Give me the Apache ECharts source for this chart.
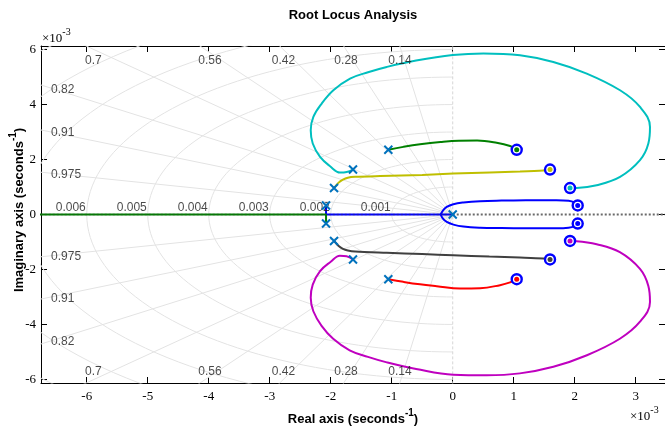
<!DOCTYPE html>
<html><head><meta charset="utf-8">
<script src="https://cdn.jsdelivr.net/npm/echarts@6/dist/echarts.min.js"></script>
<style>html,body{margin:0;padding:0;background:#fff}#c{width:665px;height:429px}</style>
</head><body><div id="c"></div><script>
// ---- data (units of 1e-3 s^-1) ----
const xTicks = [-6, -5, -4, -3, -2, -1, 0, 1, 2, 3];
const yTicks = [-6, -4, -2, 0, 2, 4, 6];
const dampingRatios = [0.14, 0.28, 0.42, 0.56, 0.7, 0.82, 0.91, 0.975];
const naturalFreqs = [1, 2, 3, 4, 5, 6, 7, 8, 9];
const freqLabels = ['0.001', '0.002', '0.003', '0.004', '0.005', '0.006'];
const poles = [[0, 0], [-2.077, 0.33], [-2.077, -0.33], [-1.946, 0.963], [-1.946, -0.963],
  [-1.635, 1.636], [-1.635, -1.636], [-1.056, 2.355], [-1.056, -2.355]];
const zeros = [[2.049, 0.33], [2.049, -0.33], [1.923, 0.963], [1.923, -0.963],
  [1.595, 1.636], [1.595, -1.636], [1.049, 2.355], [1.049, -2.355]];
const blueAxis = [[-2.077, 0.33], [-2.077, 0], [0, 0]];
const greenAxis = [[-2.077, -0.33], [-2.077, 0], [-7.5, 0]];
const blueUpper = [[-0.197, 0], [-0.164, 0.13], [-0.098, 0.276], [0.01, 0.375], [0.174, 0.436], [0.448, 0.484],
  [0.8, 0.505], [1.2, 0.515], [1.7, 0.52], [1.9, 0.5], [2.0, 0.43], [2.049, 0.33]];
const blueLower = [[-0.197, 0], [-0.164, -0.14], [-0.098, -0.272], [0.01, -0.368], [0.174, -0.44], [0.448, -0.482],
  [0.8, -0.495], [1.2, -0.5], [1.7, -0.5], [1.9, -0.48], [2.0, -0.42], [2.049, -0.33]];
const greenUpper = [[-1.056, 2.355], [-0.81, 2.46], [-0.536, 2.556], [-0.2, 2.64], [0.1, 2.685], [0.4, 2.69],
  [0.72, 2.61], [0.94, 2.49], [1.049, 2.355]];
const redLower = [[-1.056, -2.355], [-0.81, -2.45], [-0.536, -2.54], [-0.262, -2.607], [0.12, -2.69], [0.448, -2.68],
  [0.775, -2.57], [0.94, -2.47], [1.049, -2.355]];
const yellowUpper = [[-1.946, 0.963], [-1.875, 1.15], [-1.8, 1.27], [-1.72, 1.34], [-1.6, 1.37], [-1.19, 1.40],
  [-0.5, 1.44], [0.01, 1.49], [0.61, 1.527], [1.103, 1.56], [1.486, 1.60], [1.595, 1.636]];
const grayLower = [[-1.946, -0.963], [-1.875, -1.14], [-1.8, -1.25], [-1.72, -1.31], [-1.6, -1.35], [-1.082, -1.395],
  [-0.5, -1.44], [0.01, -1.48], [0.6, -1.53], [1.1, -1.565], [1.486, -1.6], [1.595, -1.636]];
const cyanUpper = [[-1.635, 1.636], [-1.738, 1.549], [-1.848, 1.527], [-2.011, 1.756], [-2.175, 2.095], [-2.295, 2.582],
  [-2.328, 3.065], [-2.285, 3.549], [-2.148, 4.036], [-1.957, 4.52], [-1.684, 4.945], [-1.389, 5.175], [-1.082, 5.367],
  [-0.6, 5.6], [0.0, 5.8], [0.502, 5.86], [1.103, 5.793], [1.649, 5.549], [2.197, 5.127], [2.743, 4.52],
  [3.07, 3.913], [3.234, 3.185], [3.207, 2.58], [3.07, 1.975], [2.743, 1.367], [2.36, 1.065], [2.033, 0.967], [1.923, 0.963]];
const magentaLower = [[-1.635, -1.636], [-1.74, -1.52], [-1.85, -1.5], [-2.0, -1.72], [-2.175, -2.06], [-2.295, -2.55],
  [-2.328, -3.03], [-2.285, -3.52], [-2.15, -4.05], [-1.96, -4.52], [-1.69, -4.94], [-1.39, -5.18], [-1.08, -5.38],
  [-0.6, -5.62], [0.01, -5.83], [0.557, -5.85], [1.1, -5.78], [1.65, -5.54], [2.2, -5.12], [2.74, -4.52],
  [3.07, -3.9], [3.234, -3.18], [3.207, -2.6], [3.07, -1.98], [2.74, -1.37], [2.36, -1.08], [2.03, -0.97], [1.923, -0.963]];

// ---- layout / style ----
const X_MIN = -6.75, X_MAX = 3.48, Y_MIN = -6.13, Y_MAX = 6.13;
const C = { b: '#0000ff', g: '#008000', r: '#ff0000', c: '#00bfbf', m: '#bf00bf', y: '#bfbf00', k: '#404040' };
const zeroInner = [C.b, C.b, C.c, C.m, C.y, C.k, C.g, C.r];
// damping label placement [x, y, align]
const dampLabelPos = {
  0.14: [[-0.864, 5.61, 'center'], [-0.864, -5.72, 'center']],
  0.28: [[-1.749, 5.61, 'center'], [-1.749, -5.72, 'center']],
  0.42: [[-2.774, 5.61, 'center'], [-2.774, -5.72, 'center']],
  0.56: [[-3.98, 5.61, 'center'], [-3.98, -5.72, 'center']],
  0.7: [[-5.89, 5.61, 'center'], [-5.89, -5.72, 'center']],
  0.82: [[-6.585, 4.545, 'left'], [-6.585, -4.633, 'left']],
  0.91: [[-6.585, 2.967, 'left'], [-6.585, -3.055, 'left']],
  0.975: [[-6.585, 1.465, 'left'], [-6.585, -1.542, 'left']]
};
const GRID_COLOR = '#e3e3e3';
const series = [];
function gline(data, extra) {
  series.push(Object.assign({ type: 'line', data: data, symbol: 'none', silent: true, animation: false, z: 1,
    lineStyle: { color: GRID_COLOR, width: 1 } }, extra || {}));
}
// damping lines
dampingRatios.forEach(z => {
  const R = 20, s = Math.sqrt(1 - z * z);
  gline([[0, 0], [-R * z, R * s]]);
  gline([[0, 0], [-R * z, -R * s]]);
});
// natural frequency arcs (left half plane)
naturalFreqs.forEach(w => {
  const pts = [];
  for (let a = 90; a <= 270; a += 2) {
    const t = a * Math.PI / 180;
    pts.push([w * Math.cos(t), w * Math.sin(t)]);
  }
  gline(pts);
});
// zeta = 0 line
gline([[0, -10], [0, 10]], { lineStyle: { color: '#d6d6d6', width: 1, type: [3, 2] } });

// branches
function branch(data, color, smooth) {
  series.push({ type: 'line', data: data, symbol: 'none', smooth: smooth, silent: true, animation: false, z: 5,
    lineStyle: { color: color, width: 2 } });
}
branch(blueAxis, C.b, false);
branch(greenAxis, C.g, false);
branch(blueUpper, C.b, 0.4);
branch(blueLower, C.b, 0.4);
branch(greenUpper, C.g, 0.4);
branch(redLower, C.r, 0.4);
branch(yellowUpper, C.y, 0.3);
branch(grayLower, C.k, 0.3);
branch(cyanUpper, C.c, 0.4);
branch(magentaLower, C.m, 0.4);

// dotted real axis
series.push({ type: 'line', data: [[0, 0], [5, 0]], symbol: 'none', silent: true, animation: false, z: 6,
  lineStyle: { color: '#6a6a6a', width: 2, type: [2, 2] } });
series.push({ type: 'line', data: [[-8, 0], [0, 0]], symbol: 'none', silent: true, animation: false, z: 6,
  lineStyle: { color: 'rgba(60,60,60,0.3)', width: 2, type: [2, 2] } });

// zeros
series.push({ type: 'scatter', data: zeros, symbol: 'circle', symbolSize: 10, silent: true, animation: false, z: 8,
  itemStyle: { color: '#ffffff', borderColor: '#0000ff', borderWidth: 2.4, opacity: 1 } });
series.push({ type: 'scatter', data: zeros.map((p, i) => ({ value: p, itemStyle: { color: zeroInner[i] } })),
  symbol: 'circle', symbolSize: 5, silent: true, animation: false, z: 9, itemStyle: { opacity: 1 } });
// poles
series.push({ type: 'scatter', data: poles, symbol: 'path://M0,0L10,10M10,0L0,10', symbolSize: 8,
  silent: true, animation: false, z: 10,
  itemStyle: { color: 'rgba(0,0,0,0)', borderColor: '#0072bd', borderWidth: 2, opacity: 1 } });

// damping labels
const dl = [];
dampingRatios.forEach(z => {
  (dampLabelPos[z] || []).forEach(p => dl.push({ name: String(z), value: [p[0], p[1]],
    label: { align: p[2] } }));
});
series.push({ type: 'scatter', data: dl, symbolSize: 0, silent: true, animation: false, z: 7,
  label: { show: true, position: [0, 0], verticalAlign: 'middle', formatter: p => p.name,
    fontFamily: 'Liberation Sans', fontSize: 12, color: '#1a1a1a' } });
// frequency labels
series.push({ type: 'scatter', data: freqLabels.map((t, i) => ({ name: t, value: [-naturalFreqs[i], 0] })),
  symbolSize: 0, silent: true, animation: false, z: 7,
  label: { show: true, position: [-1, -7], align: 'right', verticalAlign: 'middle', formatter: p => p.name,
    fontFamily: 'Liberation Sans', fontSize: 12, color: '#1a1a1a' } });

const axisCommon = {
  type: 'value', splitLine: { show: false },
  axisLine: { show: true, onZero: false, lineStyle: { color: '#000', width: 1 } }
};
const tickFont = { fontFamily: 'Liberation Serif', fontSize: 13, color: '#000' };
const supRich = (fam, bold) => ({
  a: { fontFamily: fam, fontWeight: bold ? 'bold' : 'normal', fontSize: 13, fill: '#000', lineHeight: 18, verticalAlign: 'bottom' },
  s: { fontFamily: fam, fontWeight: bold ? 'bold' : 'normal', fontSize: 10, fill: '#000', lineHeight: 18, verticalAlign: 'top' }
});
const option = {
  animation: false,
  grid: { left: 41, right: 0, top: 46, bottom: 46, containLabel: false, outerBoundsMode: 'none' },
  xAxis: [
    Object.assign({}, axisCommon, { min: X_MIN, max: X_MAX, position: 'bottom',
      axisTick: { show: true, inside: true, length: 6, customValues: xTicks, lineStyle: { color: '#000' } },
      axisLabel: Object.assign({ show: true, customValues: xTicks, margin: 7, formatter: v => String(v) }, tickFont) }),
    Object.assign({}, axisCommon, { min: X_MIN, max: X_MAX, position: 'top',
      axisTick: { show: true, inside: true, length: 6, customValues: xTicks, lineStyle: { color: '#000' } },
      axisLabel: { show: false } })
  ],
  yAxis: [
    Object.assign({}, axisCommon, { min: Y_MIN, max: Y_MAX, position: 'left',
      axisTick: { show: true, inside: true, length: 6, customValues: yTicks, lineStyle: { color: '#000' } },
      axisLabel: Object.assign({ show: true, customValues: yTicks, margin: 5, formatter: v => String(v) }, tickFont) }),
    Object.assign({}, axisCommon, { min: Y_MIN, max: Y_MAX, position: 'right',
      axisTick: { show: true, inside: true, length: 6, customValues: yTicks, lineStyle: { color: '#000' } },
      axisLabel: { show: false } })
  ],
  series: series,
  graphic: [
    { type: 'text', x: 353, y: 15, style: { text: 'Root Locus Analysis', fill: '#000',
      font: 'bold 13px "Liberation Sans"', align: 'center', verticalAlign: 'middle' } },
    { type: 'text', x: 353, y: 417, style: { text: '{a|Real axis (seconds}{s|-1}{a|)}', align: 'center', verticalAlign: 'middle',
      rich: supRich('Liberation Sans', true) } },
    { type: 'text', x: 17, y: 210, rotation: Math.PI / 2, style: { text: '{a|Imaginary axis (seconds}{s|-1}{a|)}', align: 'center', verticalAlign: 'middle',
      rich: supRich('Liberation Sans', true) } },
    { type: 'text', x: 42, y: 36, style: { text: '{a|×10}{s|-3}', align: 'left', verticalAlign: 'middle',
      rich: supRich('Liberation Serif', false) } },
    { type: 'text', x: 630, y: 414, style: { text: '{a|×10}{s|-3}', align: 'left', verticalAlign: 'middle',
      rich: supRich('Liberation Serif', false) } }
  ]
};
const chart = echarts.init(document.getElementById('c'), null, { renderer: 'canvas' });
chart.setOption(option);
</script></body></html>
